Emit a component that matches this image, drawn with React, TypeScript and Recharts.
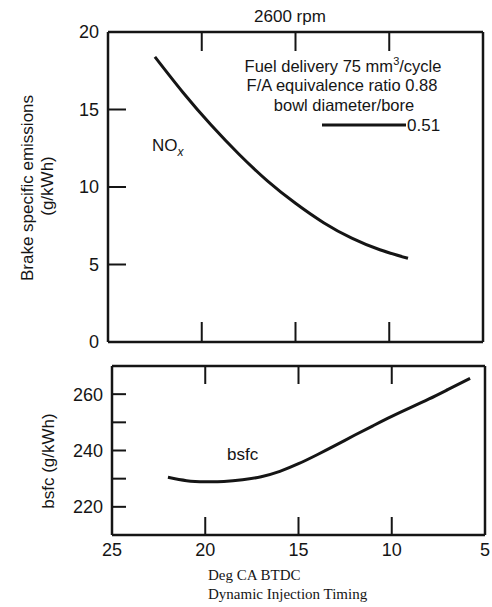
import React from 'react';
import { LineChart, Line, XAxis, YAxis } from 'recharts';

// Top panel: NOx brake specific emissions (g/kWh) vs injection timing (deg CA BTDC)
const noxTiming = [22.5, 21, 19.5, 18, 16.5, 15, 13.5, 12, 10.5, 9];
const noxValues = [18.4, 16.1, 14.0, 12.1, 10.4, 8.95, 7.7, 6.7, 5.95, 5.4];

// Bottom panel: bsfc (g/kWh) vs injection timing
const bsfcTiming = [22, 21, 20, 19, 18, 17, 16, 15, 14, 13, 12, 11, 10, 9, 8, 7, 5.8];
const bsfcValues = [230.5, 229.3, 228.9, 229.0, 229.6, 230.7, 232.6, 235.3, 238.5, 241.9, 245.4, 248.8, 252.1, 255.2, 258.3, 261.6, 265.6];

const xTicks = [25, 20, 15, 10, 5];
const xInnerTicks = [20, 15, 10];
const noxTicks = [0, 5, 10, 15, 20];
const noxRightTicks = [5, 10, 15];
const bsfcTicks = [220, 230, 240, 250, 260];
const bsfcLabelTicks = [220, 240, 260];

const noxData = noxTiming.map((x, i) => ({ x, y: noxValues[i] }));
const bsfcData = bsfcTiming.map((x, i) => ({ x, y: bsfcValues[i] }));

const INK = '#151515';
const SANS = '"Liberation Sans", Arial, sans-serif';
const SERIF = '"Liberation Serif", "Times New Roman", serif';
const axisLine = { stroke: INK, strokeWidth: 2.5 };
const FS = 18;

// Inward tick marks drawn by custom tick renderers (labels outside)
const leftTick = (len: number, showLabel: (v: number) => boolean) => (p: any) => {
  const v = p.payload.value;
  return (
    <g>
      <line x1={p.x} x2={p.x + len} y1={p.y} y2={p.y} stroke={INK} strokeWidth={2} />
      {showLabel(v) ? (
        <text x={p.x - 9} y={p.y} dy="0.36em" textAnchor="end" fill={INK} fontSize={FS} fontFamily={SANS}>{v}</text>
      ) : null}
    </g>
  );
};
const rightTick = (len: number) => (p: any) => (
  <line x1={p.x} x2={p.x - len} y1={p.y} y2={p.y} stroke={INK} strokeWidth={2} />
);
const bottomTick = (len: number, label: boolean) => (p: any) => (
  <g>
    <line x1={p.x} x2={p.x} y1={p.y} y2={p.y - len} stroke={INK} strokeWidth={2} />
    {label ? (
      <text x={p.x} y={p.y + 8} dy="0.72em" textAnchor="middle" fill={INK} fontSize={FS} fontFamily={SANS}>{p.payload.value}</text>
    ) : null}
  </g>
);
const topTick = (len: number) => (p: any) => (
  <line x1={p.x} x2={p.x} y1={p.y} y2={p.y + len} stroke={INK} strokeWidth={2} />
);

export default function App() {
  return (
    <div style={{ position: 'fixed', left: 0, top: 0, width: 492, height: 607, background: '#fff', overflow: 'hidden' }}>
      <div style={{ position: 'absolute', left: 0, top: 0 }}>
        <LineChart width={492} height={360} data={noxData} margin={{ top: 31, right: 8, bottom: 17, left: 48 }}>
          <XAxis xAxisId="b" dataKey="x" type="number" domain={[5, 25]} reversed ticks={xInnerTicks}
            orientation="bottom" height={1} tickSize={0} tickMargin={0} tickLine={false}
            axisLine={axisLine} tick={bottomTick(20, false)} />
          <XAxis xAxisId="t" dataKey="x" type="number" domain={[5, 25]} reversed ticks={xInnerTicks}
            orientation="top" height={1} tickSize={0} tickMargin={0} tickLine={false}
            axisLine={axisLine} tick={topTick(19)} />
          <YAxis yAxisId="l" type="number" domain={[0, 20]} ticks={noxTicks} width={60}
            tickSize={0} tickMargin={0} tickLine={false} axisLine={axisLine} tick={leftTick(18, () => true)} />
          <YAxis yAxisId="r" orientation="right" type="number" domain={[0, 20]} ticks={noxRightTicks} width={1}
            tickSize={0} tickMargin={0} tickLine={false} axisLine={axisLine} tick={rightTick(14)} />
          <Line xAxisId="b" yAxisId="l" dataKey="y" type="natural" stroke={INK} strokeWidth={3}
            dot={false} isAnimationActive={false} />
        </LineChart>
      </div>
      <div style={{ position: 'absolute', left: 0, top: 340 }}>
        <LineChart width={492} height={267} data={bsfcData} margin={{ top: 25, right: 6, bottom: 42, left: 52 }}>
          <XAxis xAxisId="b" dataKey="x" type="number" domain={[5, 25]} reversed ticks={xTicks}
            orientation="bottom" height={30} tickSize={0} tickMargin={0} tickLine={false}
            axisLine={axisLine} tick={bottomTick(18, true)} />
          <XAxis xAxisId="t" dataKey="x" type="number" domain={[5, 25]} reversed ticks={xInnerTicks}
            orientation="top" height={1} tickSize={0} tickMargin={0} tickLine={false}
            axisLine={axisLine} tick={topTick(18)} />
          <YAxis yAxisId="l" type="number" domain={[210, 270]} ticks={bsfcTicks} width={60}
            tickSize={0} tickMargin={0} tickLine={false} axisLine={axisLine}
            tick={leftTick(14, (v: number) => bsfcLabelTicks.includes(v))} />
          <YAxis yAxisId="r" orientation="right" type="number" domain={[210, 270]} ticks={bsfcTicks} width={1}
            tickSize={0} tickMargin={0} tickLine={false} axisLine={axisLine} tick={rightTick(13)} />
          <Line xAxisId="b" yAxisId="l" dataKey="y" type="natural" stroke={INK} strokeWidth={3}
            dot={false} isAnimationActive={false} />
        </LineChart>
      </div>
      <svg width={492} height={607} style={{ position: 'absolute', left: 0, top: 0, pointerEvents: 'none' }}>
        <g fill={INK} fontFamily={SANS}>
          <text x={290} y={22} fontSize={17} textAnchor="middle">2600 rpm</text>
          <text x={343} y={72} fontSize={16.5} textAnchor="middle">
            Fuel delivery 75 mm<tspan dy={-7} fontSize={11}>3</tspan><tspan dy={7}>/cycle</tspan>
          </text>
          <text x={342} y={91} fontSize={16.5} textAnchor="middle">F/A equivalence ratio 0.88</text>
          <text x={344} y={111} fontSize={16.5} textAnchor="middle">bowl diameter/bore</text>
          <line x1={322} y1={125} x2={406} y2={125} stroke={INK} strokeWidth={3} />
          <text x={407} y={131} fontSize={17}>0.51</text>
          <text x={152} y={151} fontSize={17}>
            NO<tspan dy={5} fontSize={12} fontStyle="italic">x</tspan>
          </text>
          <text x={227} y={460} fontSize={17}>bsfc</text>
          <text transform="translate(33,188) rotate(-90)" fontSize={17} textAnchor="middle">Brake specific emissions</text>
          <text transform="translate(53,186) rotate(-90)" fontSize={17} textAnchor="middle">(g/kWh)</text>
          <text transform="translate(54,461) rotate(-90)" fontSize={17} textAnchor="middle">bsfc (g/kWh)</text>
        </g>
        <g fill={INK} fontFamily={SERIF} fontSize={15}>
          <text x={208} y={580}>Deg CA  BTDC</text>
          <text x={208} y={599}>Dynamic Injection Timing</text>
        </g>
      </svg>
    </div>
  );
}
